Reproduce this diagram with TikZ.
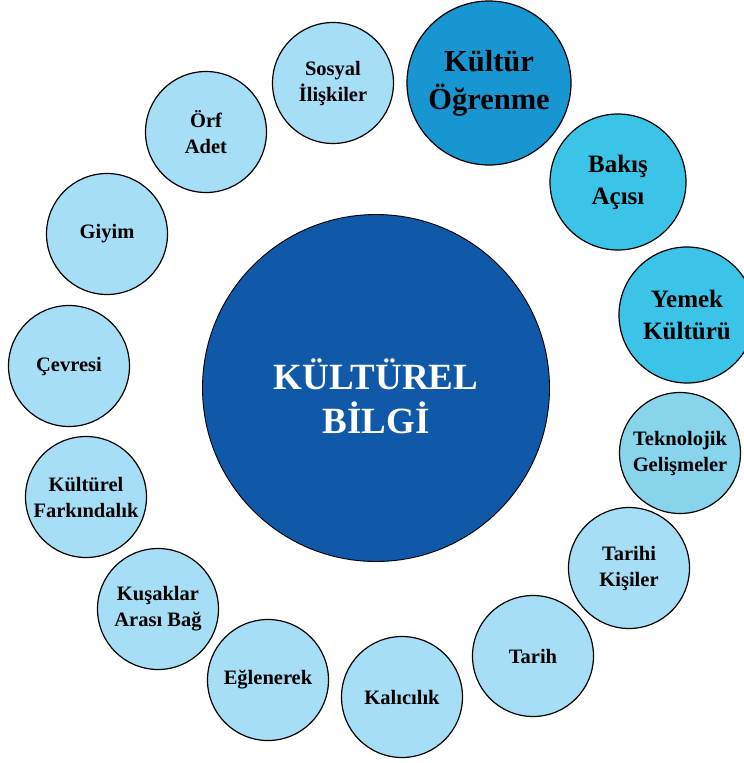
\documentclass[tikz,border=0pt]{standalone}
\usepackage{fontspec}
\setmainfont{Liberation Serif}
\usepackage{xcolor}
\usetikzlibrary{positioning}

\definecolor{merkez}{HTML}{1058A8}
\definecolor{koyu}{HTML}{1896D2}
\definecolor{orta}{HTML}{3CC4E8}
\definecolor{soluk}{HTML}{88D4EA}
\definecolor{acik}{HTML}{A6DEF5}

\begin{document}
\begin{tikzpicture}[
    x=1pt, y=-1pt,
    halka/.style={circle, draw=black, line width=1.2pt, align=center,
                  inner sep=0pt, font=\bfseries},
    kucuk/.style={halka, fill=acik, minimum size=121pt,
                  font=\fontsize{20.5}{26}\selectfont\bfseries},
    orta/.style={halka, fill=orta, minimum size=136pt,
                 font=\fontsize{25}{32}\selectfont\bfseries},
    buyuk/.style={halka, fill=koyu, minimum size=164pt,
                  font=\fontsize{30.5}{38}\selectfont\bfseries},
    ana/.style={halka, fill=merkez, minimum size=347pt, line width=0.9pt},
    anayazi/.style={align=center, text=white, inner sep=0pt,
                    font=\fontsize{37}{44}\selectfont\bfseries},
]

%% ── Page frame ──────────────────────────────────────────────────────────────
\useasboundingbox (0,0) rectangle (744,763);

%% ── Centre circle (text set a little below the centre) ──────────────────────
\node[ana] (kb) at (376,388) {};
\node[anayazi] (kbyazi) at (376,396) {KÜLTÜREL\\BİLGİ};

%% ── Highlighted circles (top right) ─────────────────────────────────────────
\node[buyuk] (kogr)  at (489, 83) {Kültür\\Öğrenme};
\node[orta]  (bakis) at (618,182) {Bakış\\Açısı};
\node[orta]  (yemek) at (687,315) {Yemek\\Kültürü};
\node[kucuk, fill=soluk] (tekno) at (680,453) {Teknolojik\\Gelişmeler};

%% ── Ring of light circles (clockwise from right) ────────────────────────────
\node[kucuk] (tarkis) at (629,568) {Tarihi\\Kişiler};
\node[kucuk] (tarih)  at (533,656) {Tarih};
\node[kucuk] (kalici) at (402,697) {Kalıcılık};
\node[kucuk] (eglen)  at (268,680) {Eğlenerek};
\node[kucuk] (kusak)  at (158,609) {Kuşaklar\\Arası Bağ};
\node[kucuk] (farkin) at ( 86,497) {Kültürel\\Farkındalık};
\node[kucuk] (cevre)  at ( 69,366) {Çevresi};
\node[kucuk] (giyim)  at (107,234) {Giyim};
\node[kucuk] (orf)    at (206,132) {Örf\\Adet};
\node[kucuk] (sosyal) at (333, 83) {Sosyal\\İlişkiler};

\end{tikzpicture}
\end{document}
